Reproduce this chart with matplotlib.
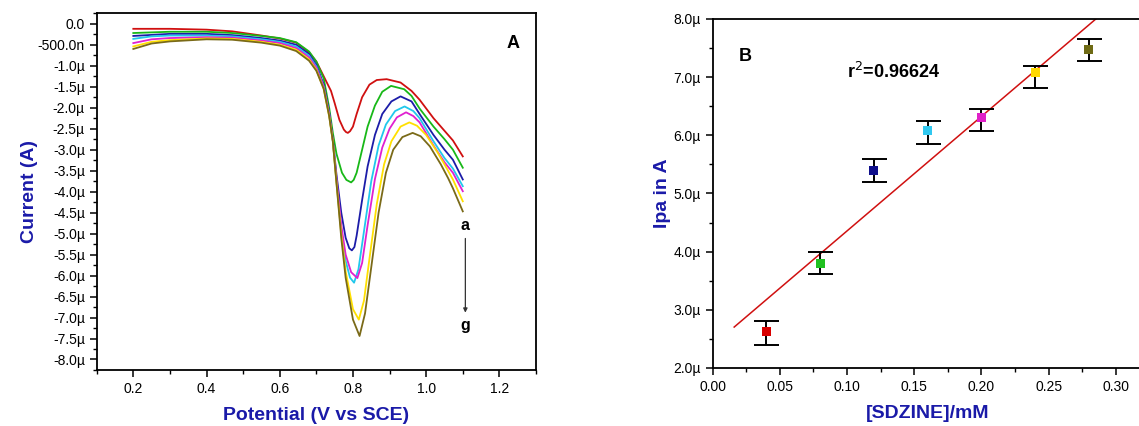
import matplotlib
matplotlib.use("Agg")
import matplotlib.pyplot as plt
from matplotlib.ticker import MultipleLocator, FuncFormatter
import numpy as np

plt.rcParams["font.family"] = ["Liberation Sans", "DejaVu Sans"]

# ---------------- panel A: voltammograms a..g (current in uA) ----------------
pot_a = [0.20, 0.30, 0.40, 0.47, 0.55, 0.60, 0.645, 0.68, 0.70, 0.72, 0.74, 0.75,
         0.763, 0.775, 0.781, 0.786, 0.792, 0.80, 0.81, 0.825, 0.845, 0.865, 0.892,
         0.93, 0.96, 0.982, 1.02, 1.05, 1.073, 1.10]
cur_a = [-0.12, -0.12, -0.14, -0.18, -0.28, -0.35, -0.45, -0.68, -0.90, -1.25, -1.60,
         -1.89, -2.29, -2.52, -2.58, -2.60, -2.56, -2.45, -2.15, -1.75, -1.45, -1.34,
         -1.32, -1.40, -1.60, -1.81, -2.25, -2.55, -2.78, -3.16]

pot_b = [0.20, 0.30, 0.40, 0.47, 0.55, 0.60, 0.645, 0.68, 0.70, 0.72, 0.735, 0.745,
         0.755, 0.77, 0.782, 0.795, 0.802, 0.81, 0.825, 0.84, 0.86, 0.88, 0.904, 0.94,
         0.96, 0.982, 1.02, 1.05, 1.073, 1.10]
cur_b = [-0.22, -0.19, -0.19, -0.22, -0.29, -0.34, -0.44, -0.66, -0.90, -1.30, -2.00,
         -2.60, -3.10, -3.55, -3.72, -3.78, -3.72, -3.55, -3.00, -2.45, -1.95, -1.62,
         -1.48, -1.56, -1.72, -2.02, -2.45, -2.75, -3.00, -3.43]

pot_c = [0.20, 0.30, 0.40, 0.47, 0.55, 0.60, 0.645, 0.68, 0.70, 0.72, 0.735, 0.745,
         0.755, 0.768, 0.78, 0.79, 0.797, 0.804, 0.81, 0.825, 0.84, 0.86, 0.88, 0.905,
         0.93, 0.96, 0.982, 1.02, 1.05, 1.073, 1.10]
cur_c = [-0.29, -0.24, -0.24, -0.27, -0.34, -0.40, -0.50, -0.72, -0.98, -1.45, -2.10,
         -2.76, -3.60, -4.50, -5.10, -5.35, -5.40, -5.32, -5.05, -4.20, -3.40, -2.65,
         -2.15, -1.85, -1.73, -1.85, -2.15, -2.65, -3.00, -3.24, -3.71]

pot_d = [0.20, 0.25, 0.30, 0.40, 0.47, 0.55, 0.60, 0.645, 0.68, 0.70, 0.72, 0.735,
         0.745, 0.755, 0.768, 0.78, 0.792, 0.803, 0.815, 0.83, 0.85, 0.87, 0.89, 0.915,
         0.941, 0.965, 0.982, 1.02, 1.05, 1.073, 1.10]
cur_d = [-0.36, -0.30, -0.28, -0.28, -0.30, -0.37, -0.43, -0.54, -0.76, -1.02, -1.50,
         -2.15, -2.80, -3.75, -4.90, -5.65, -6.05, -6.17, -5.85, -4.95, -3.75, -2.90,
         -2.40, -2.08, -1.97, -2.08, -2.25, -2.80, -3.20, -3.45, -3.87]

pot_e = [0.20, 0.25, 0.30, 0.40, 0.47, 0.55, 0.60, 0.645, 0.68, 0.70, 0.72, 0.735,
         0.745, 0.755, 0.768, 0.78, 0.795, 0.812, 0.825, 0.84, 0.86, 0.88, 0.90, 0.92,
         0.945, 0.965, 0.982, 1.02, 1.05, 1.073, 1.10]
cur_e = [-0.46, -0.37, -0.34, -0.32, -0.33, -0.40, -0.46, -0.58, -0.80, -1.05, -1.50,
         -2.15, -2.78, -3.70, -4.80, -5.50, -5.92, -6.06, -5.70, -4.80, -3.70, -2.95,
         -2.50, -2.23, -2.11, -2.20, -2.35, -2.90, -3.30, -3.55, -3.99]

pot_f = [0.20, 0.25, 0.30, 0.40, 0.47, 0.55, 0.60, 0.645, 0.68, 0.70, 0.72, 0.735,
         0.745, 0.755, 0.768, 0.78, 0.80, 0.816, 0.83, 0.845, 0.865, 0.885, 0.905, 0.93,
         0.954, 0.975, 1.00, 1.03, 1.05, 1.073, 1.10]
cur_f = [-0.54, -0.43, -0.39, -0.35, -0.36, -0.43, -0.50, -0.62, -0.85, -1.10, -1.55,
         -2.20, -2.80, -3.80, -5.00, -5.90, -6.80, -7.05, -6.60, -5.60, -4.30, -3.35,
         -2.80, -2.45, -2.35, -2.43, -2.65, -3.05, -3.35, -3.71, -4.23]

pot_g = [0.20, 0.25, 0.30, 0.40, 0.47, 0.55, 0.60, 0.645, 0.68, 0.70, 0.72, 0.735,
         0.745, 0.755, 0.768, 0.78, 0.80, 0.818, 0.833, 0.85, 0.87, 0.89, 0.91, 0.935,
         0.963, 0.985, 1.01, 1.04, 1.06, 1.073, 1.10]
cur_g = [-0.60, -0.47, -0.42, -0.37, -0.38, -0.45, -0.52, -0.65, -0.88, -1.12, -1.55,
         -2.20, -2.80, -3.80, -5.10, -6.05, -7.05, -7.44, -6.90, -5.80, -4.50, -3.55,
         -3.00, -2.70, -2.60, -2.68, -2.92, -3.35, -3.68, -3.92, -4.47]

curve_colors = ["#d01010", "#18b818", "#1c1ca8", "#20c8ec", "#e020d0", "#ffe000", "#7a6a18"]

# ---------------- panel B: peak current vs concentration ----------------
conc = [0.04, 0.08, 0.12, 0.16, 0.20, 0.24, 0.28]
ipa = [2.62, 3.80, 5.40, 6.08, 6.30, 7.08, 7.48]          # uA
err_lo = [0.22, 0.19, 0.20, 0.23, 0.22, 0.26, 0.21]
err_hi = [0.18, 0.19, 0.20, 0.16, 0.16, 0.12, 0.17]
point_colors = ["#d80000", "#20c020", "#10108c", "#30c8f0", "#e020c8", "#ffd800", "#6e6a14"]
fit_range = [0.016, 0.30]
r2_text = "r$^2$=0.96624"

LABEL_BLUE = "#1a1aa8"


def fmt_current(v, _pos):
    if abs(v) < 1e-9:
        return "0.0"
    if abs(v) < 1.0:
        return f"{v * 1000:.1f}n"
    return f"{v:.1f}\u00b5"


def style_ticks(ax):
    ax.tick_params(which="major", direction="out", length=5, width=1.1,
                   labelsize=10, top=False, right=False)
    ax.tick_params(which="minor", direction="out", length=3, width=1.0,
                   top=False, right=False)
    for s in ax.spines.values():
        s.set_linewidth(1.3)


fig = plt.figure(figsize=(11.39, 4.26), dpi=100)

# ---- A ----
axA = fig.add_axes([0.0849, 0.1315, 0.3857, 0.8373])
curves = [(pot_a, cur_a), (pot_b, cur_b), (pot_c, cur_c), (pot_d, cur_d),
          (pot_e, cur_e), (pot_f, cur_f), (pot_g, cur_g)]
for (p, c), col in zip(curves, curve_colors):
    axA.plot(p, c, color=col, lw=1.3, solid_joinstyle="round")
axA.set_xlim(0.1, 1.3)
axA.set_ylim(-8.25, 0.25)
axA.xaxis.set_major_locator(MultipleLocator(0.2))
axA.xaxis.set_minor_locator(MultipleLocator(0.1))
axA.yaxis.set_major_locator(MultipleLocator(0.5))
axA.yaxis.set_minor_locator(MultipleLocator(0.25))
axA.xaxis.set_major_formatter(FuncFormatter(lambda v, p: f"{v:.1f}"))
axA.yaxis.set_major_formatter(FuncFormatter(fmt_current))
style_ticks(axA)
axA.set_xlabel("Potential (V vs SCE)", fontsize=14, fontweight="bold",
               color=LABEL_BLUE, labelpad=8)
axA.set_ylabel("Current (A)", fontsize=14, fontweight="bold",
               color=LABEL_BLUE, labelpad=0)
axA.text(1.236, -0.46, "A", fontsize=13, fontweight="bold", ha="center", va="center")
axA.text(1.107, -4.81, "a", fontsize=11.5, fontweight="bold", ha="center", va="center")
axA.text(1.107, -7.2, "g", fontsize=11.5, fontweight="bold", ha="center", va="center")
axA.annotate("", xy=(1.107, -6.95), xytext=(1.107, -5.05),
             arrowprops=dict(arrowstyle="-|>", color="#333333", lw=0.9,
                             mutation_scale=6))

# ---- B ----
axB = fig.add_axes([0.6257, 0.1362, 0.3775, 0.8192])
fx = np.array(fit_range)
slope, icpt = np.polyfit(conc, ipa, 1)
axB.plot(fx, slope * fx + icpt, color="#d01010", lw=1.1, zorder=2)
axB.errorbar(conc, ipa, yerr=[err_lo, err_hi], fmt="none", ecolor="black",
             elinewidth=1.4, capsize=9, capthick=1.4, zorder=3)
axB.scatter(conc, ipa, c=point_colors, marker="s", s=42, zorder=4, linewidths=0)
axB.set_xlim(0.0, 0.32)
axB.set_ylim(2.0, 8.0)
axB.xaxis.set_major_locator(MultipleLocator(0.05))
axB.xaxis.set_minor_locator(MultipleLocator(0.025))
axB.yaxis.set_major_locator(MultipleLocator(1.0))
axB.yaxis.set_minor_locator(MultipleLocator(0.5))
axB.xaxis.set_major_formatter(FuncFormatter(lambda v, p: f"{v:.2f}"))
axB.yaxis.set_major_formatter(FuncFormatter(lambda v, p: f"{v:.1f}\u00b5"))
style_ticks(axB)
axB.set_xlabel("[SDZINE]/mM", fontsize=14, fontweight="bold",
               color=LABEL_BLUE, labelpad=8)
axB.set_ylabel("Ipa in A", fontsize=14, fontweight="bold",
               color=LABEL_BLUE, labelpad=2)
axB.text(0.024, 7.35, "B", fontsize=13, fontweight="bold", ha="center", va="center")
axB.text(0.1, 7.09, r2_text, fontsize=13, fontweight="bold", ha="left", va="center")

fig.savefig("out.png", dpi=100)
